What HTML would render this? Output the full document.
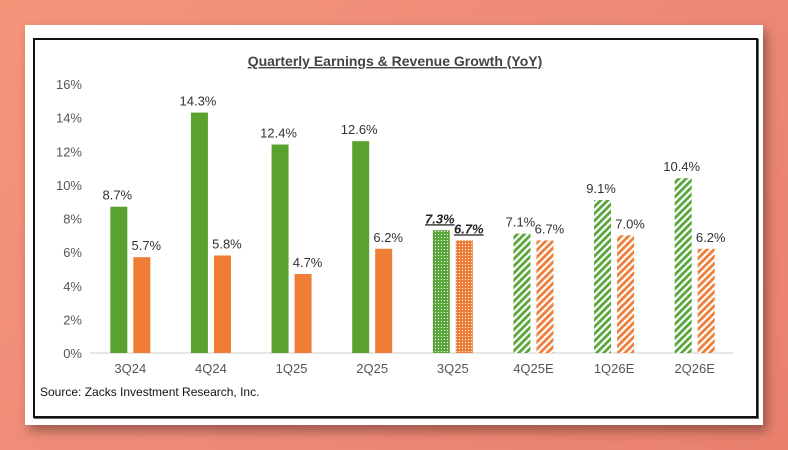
<!DOCTYPE html>
<html><head><meta charset="utf-8"><style>
body{margin:0;width:788px;height:450px;overflow:hidden;background:linear-gradient(135deg,#f4957a,#ee8a78 50%,#e8806c);font-family:"Liberation Sans",sans-serif}
#card{position:absolute;left:25px;top:25px;width:738px;height:400px;background:#fff;box-shadow:4px 6px 10px rgba(0,0,0,.35)}
#frame{position:absolute;left:8px;top:13px;width:721px;height:376px;border:2px solid #111;box-shadow:1px 1px 0 #666}
svg{position:absolute;left:0;top:0}
</style></head><body>
<div id="card"><div id="frame"></div></div>
<svg id="chart" width="788" height="450">
<defs>
<pattern id="hg" width="5" height="5" patternUnits="userSpaceOnUse" patternTransform="rotate(45)"><rect width="5" height="5" fill="#fff"/><rect width="2.8" height="5" fill="#5aa63a"/></pattern>
<pattern id="ho" width="5" height="5" patternUnits="userSpaceOnUse" patternTransform="rotate(45)"><rect width="5" height="5" fill="#fff"/><rect width="2.8" height="5" fill="#ee7f3a"/></pattern>
<pattern id="dg" width="3" height="3" patternUnits="userSpaceOnUse"><rect width="3" height="3" fill="#5aa63a"/><rect width="1" height="1" fill="#fff"/></pattern>
<pattern id="do" width="3" height="3" patternUnits="userSpaceOnUse"><rect width="3" height="3" fill="#ee7f3a"/><rect width="1" height="1" fill="#fff"/></pattern>
</defs>
<text x="395" y="66" text-anchor="middle" font-size="14" font-weight="bold" fill="#444" text-decoration="underline">Quarterly Earnings &amp; Revenue Growth (YoY)</text>
<text x="40" y="396" font-size="12" fill="#111">Source: Zacks Investment Research, Inc.</text>
</svg>
<script>
const categories=["3Q24","4Q24","1Q25","2Q25","3Q25","4Q25E","1Q26E","2Q26E"];
const earnings=[8.7,14.3,12.4,12.6,7.3,7.1,9.1,10.4];
const revenue=[5.7,5.8,4.7,6.2,6.7,6.7,7.0,6.2];
const fills=["solid","solid","solid","solid","dotted","hatch","hatch","hatch"];
const yTicks=[0,2,4,6,8,10,12,14,16];
const svg=document.getElementById('chart');const NS='http://www.w3.org/2000/svg';
const y=v=>353-v*(269/16);const x0=90,x1=735,bw=(x1-x0)/categories.length;
const cx=i=>x0+bw*(i+0.5);
function mk(t,a,p){const e=document.createElementNS(NS,t);for(const k in a)e.setAttribute(k,a[k]);(p||svg).appendChild(e);return e;}
yTicks.forEach(v=>{const t=mk('text',{x:82,y:y(v)+5,'text-anchor':'end','font-size':13,fill:'#555'});t.textContent=v+'%';

});
const ax=mk('line',{x1:x0,x2:x1-2,y1:353,y2:353,stroke:'#ccc','stroke-width':1});


categories.forEach((c,i)=>{
 const f=fills[i];
 const gf=f=='solid'?'#5aa230':f=='dotted'?'url(#dg)':'url(#hg)';
 const of=f=='solid'?'#ef7d35':f=='dotted'?'url(#do)':'url(#ho)';
 const g=mk('rect',{x:cx(i)-20,y:y(earnings[i]),width:17,height:353-y(earnings[i]),fill:gf});
 
 
 const o=mk('rect',{x:cx(i)+3,y:y(revenue[i]),width:17,height:353-y(revenue[i]),fill:of});
 
 
 const bold=f=='dotted';
 const st={'font-size':13,fill:bold?'#222':'#333','text-anchor':'middle'};
 if(bold){st['font-weight']='bold';st['font-style']='italic';st['text-decoration']='underline';}
 const gl=mk('text',Object.assign({x:cx(i)-13,y:y(earnings[i])-7},st));gl.textContent=earnings[i].toFixed(1)+'%';
 
 
 const ol=mk('text',Object.assign({x:cx(i)+16,y:y(revenue[i])-7},st));ol.textContent=revenue[i].toFixed(1)+'%';
 
 
 const cl=mk('text',{x:cx(i),y:373,'text-anchor':'middle','font-size':13,fill:'#555'});cl.textContent=c;
 
 
});
</script>
</body></html>
